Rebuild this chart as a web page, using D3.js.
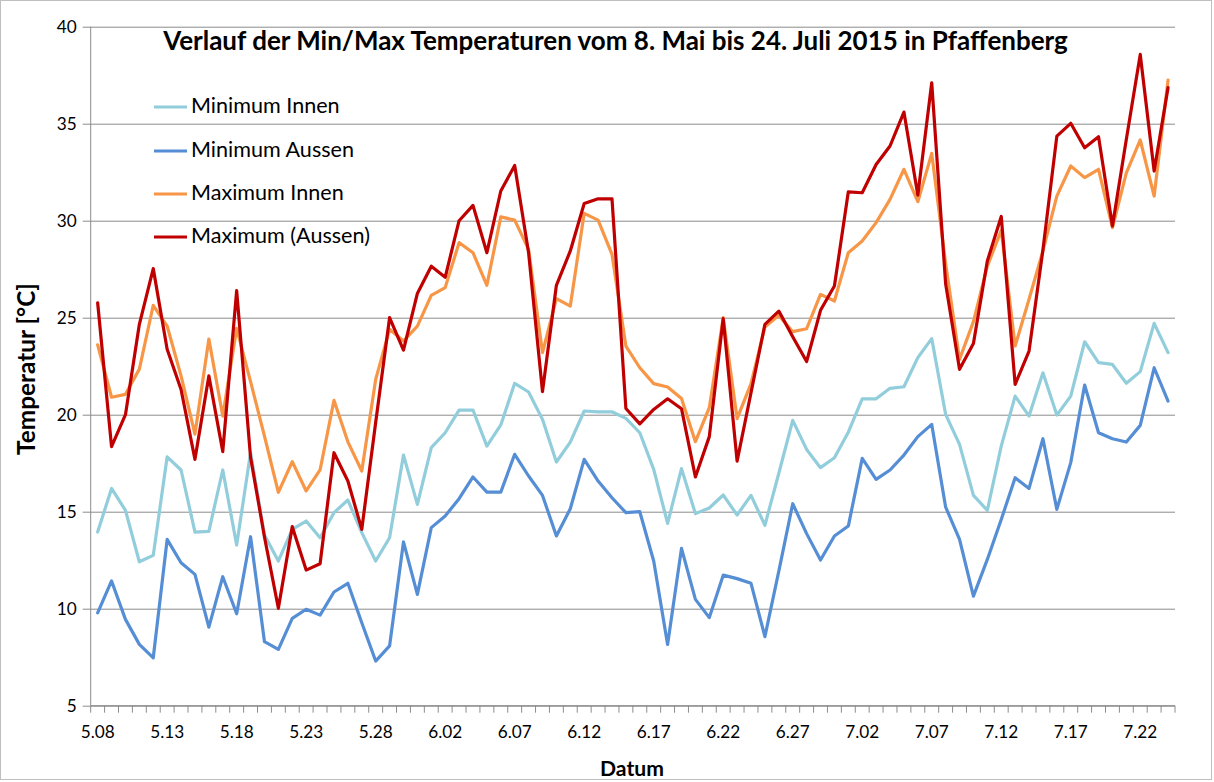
<!DOCTYPE html>
<html>
<head>
<meta charset="utf-8">
<script src="https://cdn.jsdelivr.net/npm/d3@7"></script>
<style>
  html, body { margin: 0; padding: 0; background: #fff; }
  svg { display: block; font-family: Lato, "Open Sans", sans-serif; }
</style>
</head>
<body>
<svg id="chart" width="1214" height="782"></svg>
<script>
const categories = [
  "5.08","5.09","5.10","5.11","5.12","5.13","5.14","5.15","5.16","5.17","5.18","5.19","5.20","5.21","5.22","5.23","5.24","5.25","5.26","5.27","5.28","5.29","5.30","5.31",
  "6.01","6.02","6.03","6.04","6.05","6.06","6.07","6.08","6.09","6.10","6.11","6.12","6.13","6.14","6.15","6.16","6.17","6.18","6.19","6.20","6.21","6.22","6.23","6.24","6.25","6.26","6.27","6.28","6.29","6.30",
  "7.01","7.02","7.03","7.04","7.05","7.06","7.07","7.08","7.09","7.10","7.11","7.12","7.13","7.14","7.15","7.16","7.17","7.18","7.19","7.20","7.21","7.22","7.23","7.24"
];
const xTickLabels = ["5.08","5.13","5.18","5.23","5.28","6.02","6.07","6.12","6.17","6.22","6.27","7.02","7.07","7.12","7.17","7.22"];
const yTicks = [5, 10, 15, 20, 25, 30, 35, 40];

const minInnen = [13.95,16.2,15.07,12.42,12.75,17.83,17.15,13.95,13.99,17.15,13.28,18.04,13.8,12.46,14.09,14.52,13.66,14.95,15.6,13.92,12.46,13.66,17.92,15.38,18.3,19.07,20.24,20.24,18.38,19.47,21.62,21.17,19.76,17.56,18.59,20.19,20.15,20.15,19.81,19.07,17.18,14.4,17.22,14.9,15.19,15.86,14.83,15.84,14.3,16.98,19.71,18.21,17.27,17.78,19.1,20.82,20.82,21.36,21.44,22.94,23.92,20.02,18.47,15.84,15.07,18.38,20.96,19.93,22.16,19.98,20.96,23.76,22.68,22.59,21.62,22.22,24.71,23.2];
const minAussen = [9.79,11.43,9.45,8.16,7.47,13.57,12.37,11.77,9.05,11.65,9.74,13.71,8.3,7.9,9.5,9.97,9.67,10.86,11.31,9.28,7.3,8.08,13.44,10.74,14.18,14.78,15.67,16.79,16.01,16.01,17.96,16.84,15.84,13.75,15.15,17.7,16.58,15.72,14.95,15.0,12.46,8.16,13.11,10.48,9.54,11.73,11.55,11.31,8.56,11.94,15.41,13.87,12.51,13.75,14.26,17.75,16.67,17.15,17.92,18.87,19.5,15.24,13.57,10.65,12.54,14.6,16.75,16.2,18.76,15.12,17.53,21.53,19.07,18.76,18.59,19.45,22.42,20.7];
const maxInnen = [23.6,20.9,21.05,22.35,25.64,24.57,22.0,19.0,23.9,19.93,24.45,21.7,18.9,16.0,17.58,16.07,17.15,20.74,18.6,17.1,21.82,24.4,23.8,24.57,26.15,26.55,28.87,28.35,26.67,30.2,30.03,28.52,23.2,25.98,25.6,30.38,30.03,28.26,23.54,22.42,21.6,21.43,20.84,18.61,20.36,25.0,19.8,21.6,24.52,25.12,24.28,24.43,26.2,25.86,28.35,28.95,29.9,31.1,32.65,30.98,33.47,27.8,22.85,24.8,27.66,29.5,23.54,25.95,28.44,31.27,32.82,32.22,32.65,29.64,32.47,34.16,31.27,37.25];
const maxAussen = [25.77,18.35,20.0,24.66,27.53,23.37,21.3,17.7,22.0,18.1,26.4,17.8,13.7,10.02,14.23,11.99,12.32,18.04,16.58,14.09,19.6,25.0,23.33,26.25,27.65,27.08,30.0,30.79,28.35,31.53,32.85,28.35,21.19,26.67,28.44,30.89,31.13,31.13,20.32,19.53,20.27,20.82,20.31,16.79,18.87,24.95,17.61,21.13,24.66,25.34,24.02,22.74,25.38,26.63,31.49,31.44,32.9,33.85,35.6,31.32,37.11,26.75,22.34,23.67,27.92,30.22,21.56,23.28,28.5,34.36,35.02,33.76,34.33,29.73,34.2,38.57,32.56,36.86];

const seriesNames = ["Minimum Innen", "Minimum Aussen", "Maximum Innen", "Maximum (Aussen)"];
const seriesColors = ["#92CDDC", "#558ED5", "#F79646", "#C00000"];
const seriesValues = [minInnen, minAussen, maxInnen, maxAussen];

const titleText = "Verlauf der Min/Max Temperaturen vom 8. Mai bis 24. Juli 2015 in Pfaffenberg";
const yTitle = "Temperatur [°C]";
const xTitle = "Datum";

(function () {
const svg = d3.select("#chart");
const W = 1214, H = 782;
const pLeft = 90.7, pRight = 1175, pTop = 26.7, pBottom = 705.7;
const gridColor = "#8c8c8c";

// scale a text's font so that its rendered width matches a target width
function fitFont(sel, base, target) {
  sel.attr("font-size", base);
  const w = sel.node().getComputedTextLength();
  const fs = w > 0 ? base * target / w : base;
  sel.attr("font-size", fs);
  return fs;
}

svg.append("rect").attr("x", 0.5).attr("y", 0.5).attr("width", W - 3).attr("height", H - 3)
  .attr("fill", "#fff").attr("stroke", "#bfbfbf").attr("stroke-width", 1);

const x = d3.scaleBand().domain(categories).range([pLeft, pRight]).padding(0);
const y = d3.scaleLinear().domain([5, 40]).range([pBottom, pTop]);
const cx = d => x(d) + x.bandwidth() / 2;

// measure tick font size from "5.08" width
const probe = svg.append("text").attr("font-family", "Lato, sans-serif").text("5.08");
const tickFs = fitFont(probe, 17, 34);
probe.remove();

const yAxis = d3.axisLeft(y).tickValues(yTicks).tickSize(-(pRight - pLeft)).tickSizeOuter(0).tickPadding(14);
const gy = svg.append("g").attr("transform", `translate(${pLeft},0)`).call(yAxis);
gy.select(".domain").remove();
gy.selectAll(".tick line").attr("stroke", gridColor).attr("stroke-width", 1).attr("x1", -8);
gy.selectAll(".tick text").attr("font-size", tickFs).attr("fill", "#000").attr("font-family", "Lato, sans-serif");

svg.append("line").attr("x1", pLeft).attr("x2", pLeft).attr("y1", pTop).attr("y2", pBottom)
  .attr("stroke", gridColor).attr("stroke-width", 1);

const xAxis = d3.axisBottom(x).tickValues(xTickLabels).tickSize(0).tickPadding(20);
const gx = svg.append("g").attr("transform", `translate(0,${pBottom})`).call(xAxis);
gx.select(".domain").attr("stroke", gridColor).attr("d", `M${pLeft},0H${pRight}`);
gx.selectAll(".tick text").attr("font-size", tickFs).attr("fill", "#000").attr("font-family", "Lato, sans-serif");

const bounds = categories.map(d => x(d)).concat([x(categories[categories.length - 1]) + x.bandwidth()]);
svg.append("g").selectAll("line").data(bounds).join("line")
  .attr("x1", d => d).attr("x2", d => d).attr("y1", pBottom).attr("y2", pBottom + 7)
  .attr("stroke", gridColor).attr("stroke-width", 1);

const line = d3.line().x((d, i) => cx(categories[i])).y(d => y(d));
seriesValues.forEach((vals, k) => {
  svg.append("path").datum(vals).attr("d", line)
    .attr("fill", "none").attr("stroke", seriesColors[k]).attr("stroke-width", 3.2)
    .attr("stroke-linejoin", "round").attr("stroke-linecap", "round");
});

const t = svg.append("text").attr("x", 615.5).attr("y", 50).attr("text-anchor", "middle")
  .attr("font-weight", "bold").attr("fill", "#000").text(titleText);
fitFont(t, 21, 905);

const yt = svg.append("text").attr("transform", `translate(35,${369}) rotate(-90)`)
  .attr("text-anchor", "middle").attr("font-weight", "bold").text(yTitle);
fitFont(yt, 17, 172);
const xt = svg.append("text").attr("x", 632).attr("y", 776).attr("text-anchor", "middle")
  .attr("font-weight", "bold").text(xTitle);
fitFont(xt, 17, 64);

const legendY = [107, 151, 194, 237];
const lg = svg.append("g");
let legFs = 17;
seriesNames.forEach((name, k) => {
  lg.append("line").attr("x1", 154).attr("x2", 187).attr("y1", legendY[k]).attr("y2", legendY[k])
    .attr("stroke", seriesColors[k]).attr("stroke-width", 3.2);
  lg.append("text").attr("class", "legtext").attr("x", 191).attr("y", legendY[k] + 6).attr("fill", "#000").text(name);
});
const lastLeg = lg.selectAll(".legtext").filter((d, i) => i === 3);
legFs = fitFont(lastLeg, 17, 179);
lg.selectAll(".legtext").attr("font-size", legFs);
})();
</script>
</body>
</html>
